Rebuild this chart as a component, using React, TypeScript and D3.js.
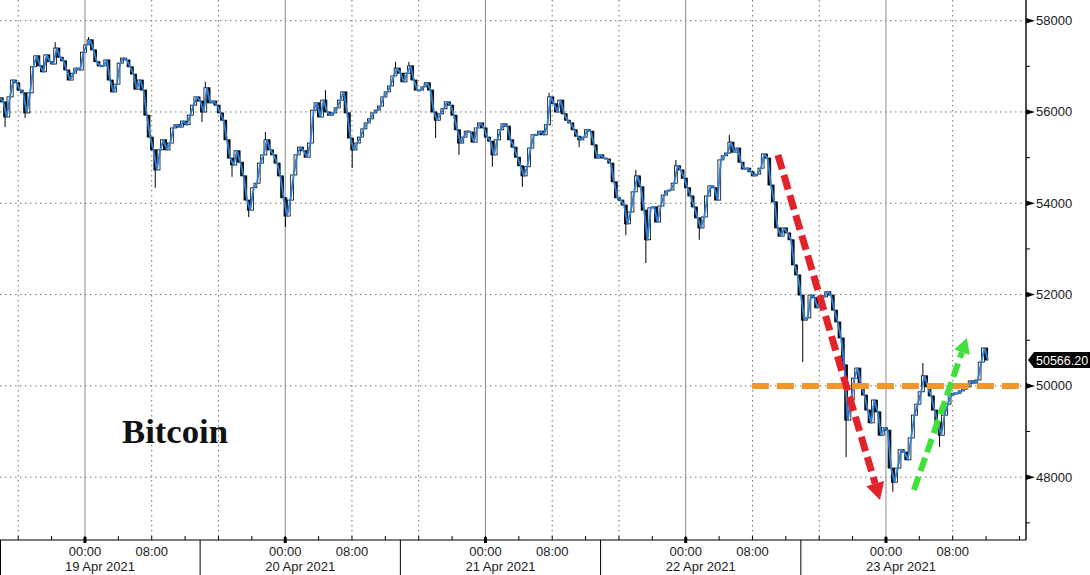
import React from "react";
import * as d3 from "d3";

// ---- data ----
const seriesStart = Date.UTC(2021, 3, 18, 13, 49);
const stepMinutes = 24;
const closes: number[] = [
  56310, 56220, 55890, 56330, 56700, 56640, 56480, 56420, 55980, 56420,
  56990, 57230, 57010, 56880, 57250, 57100, 57050, 57400, 57200, 57120,
  56920, 56700, 56850, 56960, 56920, 57310, 57470, 57580, 57360, 57100,
  57010, 57010, 57140, 56700, 56440, 56610, 57070, 57180, 57140, 56990,
  56830, 56500, 56700, 56480, 55930, 55450, 55170, 54730, 55170, 55390,
  55170, 55320, 55650, 55720, 55670, 55800, 55720, 55930, 56150, 56330,
  56240, 56000, 56530, 56200, 56240, 56150, 55980, 55820, 55390, 54990,
  54840, 55150, 54900, 54600, 54070, 53850, 54340, 54440, 54880, 55060,
  55390, 55170, 55060, 54880, 54600, 54120, 53720, 54070, 54620, 55060,
  55230, 55150, 55010, 55320, 56040, 56200, 55890, 56260, 56000, 55930,
  55980, 56090, 56260, 56440, 55980, 55430, 55170, 55320, 55450, 55630,
  55760, 55850, 55980, 56040, 56130, 56330, 56440, 56570, 56790, 56960,
  56850, 56660, 56850, 57010, 56700, 56480, 56480, 56550, 56640, 56480,
  56000, 55820, 55960, 56070, 56220, 56150, 55930, 55610, 55320, 55450,
  55580, 55560, 55340, 55650, 55760, 55650, 55450, 55360, 55060, 55390,
  55610, 55740, 55690, 55390, 55230, 55010, 54820, 54600, 54800, 55210,
  55500, 55500, 55580, 55500, 55720, 56330, 56180, 56000, 56260, 55960,
  55820, 55760, 55610, 55470, 55390, 55450, 55610, 55580, 55280, 54990,
  55060, 54990, 54970, 54880, 54470, 54120, 54070, 53960, 53550, 53810,
  54250, 54600, 54360, 53850, 53200, 53900, 53920, 53590, 53940, 54180,
  54270, 54290, 54440, 54820, 54730, 54550, 54340, 54160, 53920, 53680,
  53460, 53700, 54160, 54380, 54340, 54070, 54950, 55040, 55100, 55340,
  55120, 55210, 54900, 54750, 54770, 54690, 54600, 54640, 54770, 55080,
  54990, 54400, 54030, 53460, 53280, 53460, 53350, 53200, 52650, 52430,
  51990, 51440, 51490, 51990, 51930, 51710, 51970, 51950, 52060, 51990,
  51660, 51400, 51050, 50460, 49250, 49690, 50170, 50390, 50020, 49800,
  49470, 49190, 49690, 49430, 48920, 49080, 49030, 48200, 47890, 48200,
  48600, 48550, 48380, 48860, 49360, 49600, 49870, 50220, 49980, 49780,
  49470, 49210, 48920, 49360, 49600, 49800, 49840, 49840, 49890, 49930,
  49980, 50110, 50060, 50130, 50520, 50830, 50566.2,
];
// [bar index, wick extreme price]
const wickExtremes: [number, number][] = [
  [2, 55670], [8, 55870], [17, 57530], [27, 57640], [47, 54340], [61, 55780],
  [62, 56660], [70, 54580], [75, 53700], [80, 55560], [86, 53480], [98, 56480],
  [106, 54770], [119, 57100], [123, 57100], [131, 55430], [138, 55060],
  [148, 54800], [157, 54360], [165, 56420], [174, 55230], [188, 53300],
  [191, 54730], [194, 52690], [203, 54950], [210, 53200], [219, 55500],
  [241, 50520], [254, 48440], [268, 47680], [277, 50500], [282, 48660],
];
const lastPrice = 50566.2;

const yMajorTicks = [48000, 50000, 52000, 54000, 56000, 58000];
const yMinorTicks = [47000, 49000, 51000, 53000, 55000, 57000];
const dayNumbers = [19, 20, 21, 22, 23];
const dayLabels = ["19 Apr 2021", "20 Apr 2021", "21 Apr 2021", "22 Apr 2021", "23 Apr 2021"];
const hourLabels = ["00:00", "08:00"];

const chartTitle = "Bitcoin";
const levelLine = { price: 50000, from: Date.UTC(2021, 3, 22, 7, 56) };
const downArrow = {
  from: [Date.UTC(2021, 3, 22, 11, 3), 55060] as [number, number],
  to: [Date.UTC(2021, 3, 22, 23, 17), 47500] as [number, number],
};
const upArrow = {
  from: [Date.UTC(2021, 3, 23, 3, 21), 47720] as [number, number],
  to: [Date.UTC(2021, 3, 23, 9, 42), 51050] as [number, number],
};

// ---- layout ----
const W = 1090;
const H = 575;
const plotRight = 1026;
const plotBottom = 540;

const x = d3
  .scaleUtc()
  .domain([new Date(Date.UTC(2021, 3, 18, 13, 49)), new Date(Date.UTC(2021, 3, 23, 16, 47))])
  .range([0, plotRight]);
const y = d3.scaleLinear().domain([46624, 58453]).range([plotBottom, 0]);

const FONT = "'Liberation Sans', Arial, sans-serif";

function arrowShape(
  from: [number, number],
  to: [number, number],
  color: string,
  width: number,
  head: number,
  dash: string,
  key: string
) {
  const x1 = x(new Date(from[0]));
  const y1 = y(from[1]);
  const x2 = x(new Date(to[0]));
  const y2 = y(to[1]);
  const dx = x2 - x1;
  const dy = y2 - y1;
  const len = Math.hypot(dx, dy);
  const ux = dx / len;
  const uy = dy / len;
  const bx = x2 - ux * head;
  const by = y2 - uy * head;
  const px = -uy;
  const py = ux;
  const hw = head * 0.55;
  return (
    <g key={key}>
      <line x1={x1} y1={y1} x2={bx} y2={by} stroke={color} strokeWidth={width} strokeDasharray={dash} />
      <polygon
        points={`${x2},${y2} ${bx + px * hw},${by + py * hw} ${bx - px * hw},${by - py * hw}`}
        fill={color}
      />
    </g>
  );
}

export default function App() {
  const times = closes.map((_, i) => new Date(seriesStart + i * stepMinutes * 60000));
  const wickMap = new Map(wickExtremes.map(([i, v]) => [i, v]));

  const midnights = dayNumbers.map((d) => new Date(Date.UTC(2021, 3, d, 0, 0)));
  const eights = dayNumbers.map((d) => new Date(Date.UTC(2021, 3, d, 8, 0)));
  const dottedV: Date[] = [];
  for (let d = 18; d <= 23; d++) {
    for (const h of [8, 16]) {
      const t = new Date(Date.UTC(2021, 3, d, h, 0));
      const px = x(t);
      if (px > 2 && px < plotRight - 10) dottedV.push(t);
    }
  }
  const minorTimeTicks: Date[] = [];
  for (let d = 18; d <= 23; d++) {
    for (let h = 0; h < 24; h += 4) {
      const t = new Date(Date.UTC(2021, 3, d, h, 0));
      const px = x(t);
      if (px > 2 && px < plotRight - 2) minorTimeTicks.push(t);
    }
  }
  const separators = [18, 19, 20, 21, 22].map((d) => new Date(Date.UTC(2021, 3, d, 13, 48)));

  const line = d3
    .line<number>()
    .x((_, i) => x(times[i]))
    .y((v) => y(v));

  const candles = closes.slice(1).map((c, k) => {
    const i = k + 1;
    const o = closes[i - 1];
    let hi = Math.max(o, c);
    let lo = Math.min(o, c);
    const w = wickMap.get(i);
    if (w !== undefined) {
      hi = Math.max(hi, w);
      lo = Math.min(lo, w);
    }
    const cx = x(times[i]) - 1.6;
    const top = y(Math.max(o, c));
    const bot = y(Math.min(o, c));
    return (
      <g key={i}>
        <line x1={cx} x2={cx} y1={y(hi)} y2={y(lo)} stroke="#000" strokeWidth={1} />
        <rect
          x={cx - 1.4}
          y={top}
          width={2.8}
          height={Math.max(bot - top, 0.8)}
          fill={c >= o ? "#fff" : "#111"}
          stroke="#000"
          strokeWidth={0.8}
        />
      </g>
    );
  });

  const lastY = y(lastPrice);

  return (
    <svg
      width={W}
      height={H}
      viewBox={`0 0 ${W} ${H}`}
      style={{ position: "absolute", left: 0, top: 0, background: "#fff" }}
    >
      <rect x={0} y={0} width={W} height={H} fill="#fff" />
      <defs>
        <clipPath id="plot">
          <rect x={0} y={0} width={plotRight} height={plotBottom} />
        </clipPath>
      </defs>

      {/* grid */}
      <g>
        {yMajorTicks.map((v) => (
          <line
            key={v}
            x1={0}
            x2={plotRight}
            y1={y(v)}
            y2={y(v)}
            stroke="#6f6f6f"
            strokeWidth={1}
            strokeDasharray="1.5,3.5"
          />
        ))}
        {dottedV.map((t, i) => (
          <line
            key={"dv" + i}
            x1={x(t)}
            x2={x(t)}
            y1={0}
            y2={plotBottom}
            stroke="#6f6f6f"
            strokeWidth={1}
            strokeDasharray="1.5,3.5"
          />
        ))}
        {midnights.map((t, i) => (
          <line key={"m" + i} x1={x(t)} x2={x(t)} y1={0} y2={plotBottom} stroke="#8a8a8a" strokeWidth={1} />
        ))}
      </g>

      {/* price series */}
      <g clipPath="url(#plot)">
        {candles}
        <path d={line(closes) || ""} fill="none" stroke="#2f7fd6" strokeWidth={1.9} strokeLinejoin="round" />
      </g>

      {/* annotations */}
      <line
        x1={x(new Date(levelLine.from))}
        x2={plotRight}
        y1={y(levelLine.price)}
        y2={y(levelLine.price)}
        stroke="#f2952b"
        strokeWidth={6}
        strokeDasharray="17,8"
      />
      {arrowShape(downArrow.from, downArrow.to, "#e3232c", 7, 17, "15,6", "down")}
      {arrowShape(upArrow.from, upArrow.to, "#3fe03a", 6, 15, "14,6", "up")}

      <text
        x={122}
        y={443}
        fontFamily="'Liberation Serif', 'Times New Roman', serif"
        fontSize={33}
        fontWeight="bold"
        textLength={106}
        lengthAdjust="spacingAndGlyphs"
        fill="#111"
      >
        {chartTitle}
      </text>

      {/* right axis */}
      <line x1={plotRight} x2={plotRight} y1={0} y2={plotBottom} stroke="#000" strokeWidth={1.4} />
      {yMinorTicks.map((v) => (
        <line key={v} x1={plotRight} x2={plotRight + 4} y1={y(v)} y2={y(v)} stroke="#000" strokeWidth={1} />
      ))}
      {yMajorTicks.map((v) => (
        <g key={v}>
          <polygon
            points={`${plotRight},${y(v) - 2.8} ${plotRight + 9},${y(v)} ${plotRight},${y(v) + 2.8}`}
            fill="#000"
          />
          <text x={plotRight + 10} y={y(v) + 4.5} fontFamily={FONT} fontSize={13} fill="#1a1a1a">
            {v}
          </text>
        </g>
      ))}
      <polygon
        points={`${plotRight + 2},${lastY} ${plotRight + 8},${lastY - 8} ${W},${lastY - 8} ${W},${lastY + 8} ${plotRight + 8},${lastY + 8}`}
        fill="#000"
      />
      <text x={plotRight + 10} y={lastY + 4.5} fontFamily={FONT} fontSize={12.5} fill="#fff">
        {lastPrice.toFixed(2)}
      </text>

      {/* bottom axis */}
      <line x1={0} x2={plotRight} y1={plotBottom} y2={plotBottom} stroke="#000" strokeWidth={1.2} />
      {minorTimeTicks.map((t, i) => (
        <line key={"mt" + i} x1={x(t)} x2={x(t)} y1={plotBottom - 4} y2={plotBottom} stroke="#000" strokeWidth={1} />
      ))}
      {midnights.map((t, i) => (
        <rect key={"bt" + i} x={x(t) - 1.5} y={plotBottom - 3} width={3} height={6} fill="#000" />
      ))}
      {separators.map((t, i) => (
        <line
          key={"sep" + i}
          x1={Math.max(x(t), 0.5)}
          x2={Math.max(x(t), 0.5)}
          y1={plotBottom}
          y2={H}
          stroke="#000"
          strokeWidth={1}
        />
      ))}
      {midnights.map((t, i) => (
        <text key={"l0" + i} x={x(t)} y={556} textAnchor="middle" fontFamily={FONT} fontSize={13} fill="#1a1a1a">
          {hourLabels[0]}
        </text>
      ))}
      {eights.map((t, i) => (
        <text key={"l8" + i} x={x(t)} y={556} textAnchor="middle" fontFamily={FONT} fontSize={13} fill="#1a1a1a">
          {hourLabels[1]}
        </text>
      ))}
      {separators.map((t, i) => (
        <text
          key={"dl" + i}
          x={x(new Date(t.getTime() + 12 * 3600000))}
          y={571}
          textAnchor="middle"
          fontFamily={FONT}
          fontSize={13}
          fill="#1a1a1a"
        >
          {dayLabels[i]}
        </text>
      ))}
    </svg>
  );
}
